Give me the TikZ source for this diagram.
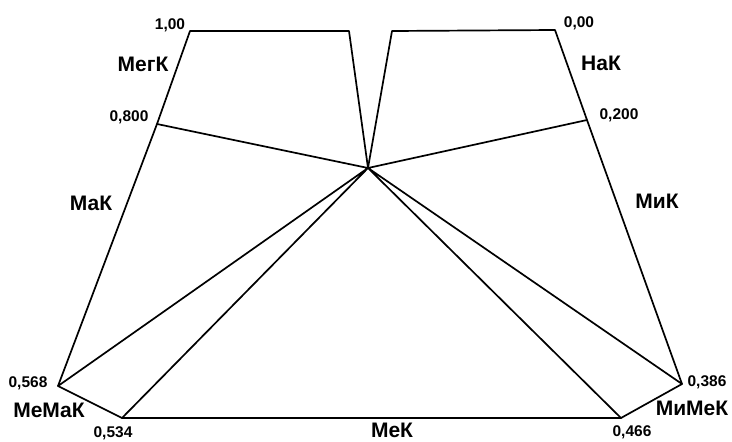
\documentclass[tikz,border=0pt]{standalone}
\usepackage{fontspec}
\setmainfont{Liberation Sans}
\begin{document}
\begin{tikzpicture}[x=1pt,y=-1pt,
  edge/.style={line width=1.7pt, line join=round, line cap=round},
  num/.style={font=\fontsize{15.5}{15.5}\selectfont\bfseries, inner sep=0pt, anchor=base},
  lab/.style={font=\fontsize{21}{21}\selectfont\bfseries, inner sep=0pt, anchor=base}]
\useasboundingbox (0,0) rectangle (732,442);
\coordinate (A) at (190,31);
\coordinate (B) at (349,31);
\coordinate (C) at (368,168);
\coordinate (D) at (392,31);
\coordinate (E) at (555,30);
\coordinate (F) at (587,120);
\coordinate (G) at (682,384);
\coordinate (H) at (621,418);
\coordinate (I) at (122,418);
\coordinate (J) at (58,386);
\coordinate (K) at (157,124);
\draw[edge] (A) -- (B) -- (C) -- (D) -- (E) -- (F) -- (G) -- (H) -- (I) -- (J) -- (K) -- cycle;
\draw[edge] (C) -- (K) (C) -- (F) (C) -- (J) (C) -- (I) (C) -- (H) (C) -- (G);
\node[num] (n1) at (170,29) {1,00};
\node[num] (n2) at (129,121) {0,800};
\node[num] (n3) at (579,27) {0,00};
\node[num] (n4) at (619,119) {0,200};
\node[num] (n5) at (28,387) {0,568};
\node[num] (n6) at (113,437) {0,534};
\node[num] (n7) at (632,436) {0,466};
\node[num] (n8) at (707,386) {0,386};
\node[lab] (l1) at (143,71) {МегК};
\node[lab] (l2) at (91,210) {МаК};
\node[lab] (l3) at (601,70) {НаК};
\node[lab] (l4) at (657,208) {МиК};
\node[lab] (l5) at (49,417) {МеМаК};
\node[lab] (l6) at (392,437) {МеК};
\node[lab] (l7) at (692,415) {МиМеК};
\end{tikzpicture}
\end{document}
